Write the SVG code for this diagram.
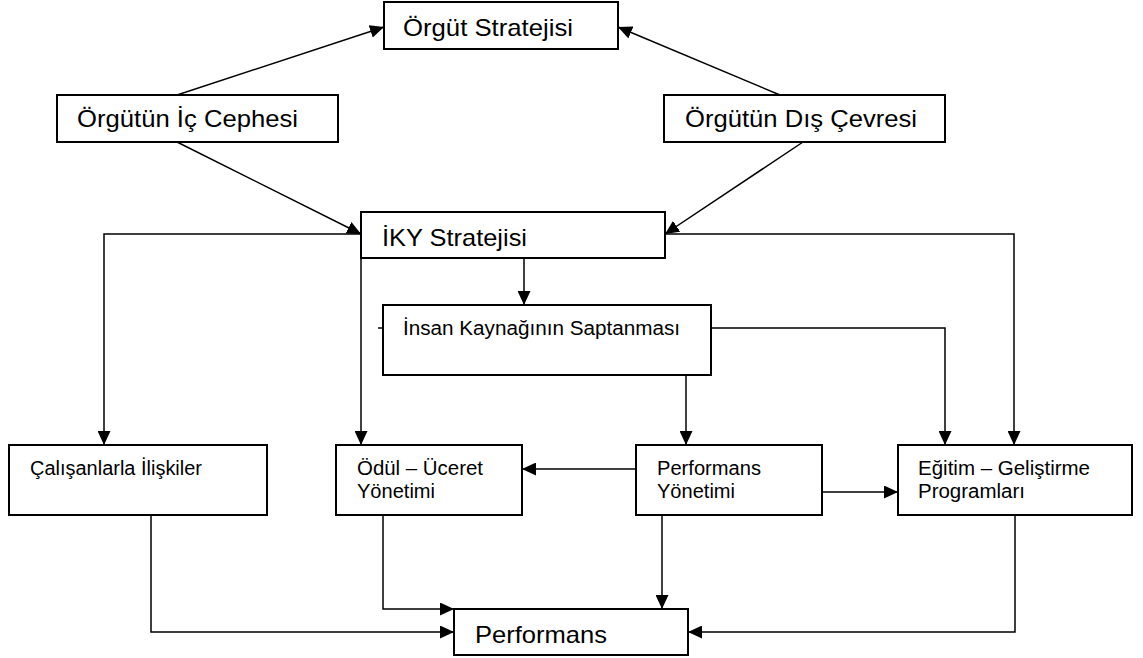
<svg xmlns="http://www.w3.org/2000/svg" width="1143" height="658" viewBox="0 0 1143 658">
  <style>
    .box { fill: #ffffff; stroke: #000000; stroke-width: 2; }
    .lbl { font-family: "Liberation Sans", Arial, sans-serif; fill: #000000; }
    .big { font-size: 24px; }
    .small { font-size: 20px; }
    .conn { fill: none; stroke: #000000; stroke-width: 1.5; }
    .arr { marker-end: url(#head); }
  </style>
  <defs>
    <marker id="head" markerWidth="15" markerHeight="13" refX="14" refY="6.5" orient="auto" markerUnits="userSpaceOnUse">
      <path d="M0,0 L14,6.5 L0,13 Z" fill="#000000"/>
    </marker>
  </defs>
  <rect width="1143" height="658" fill="#ffffff"/>

  <!-- connectors -->
  <g id="connectors">
    <path class="conn arr" d="M177,95 L384,27"/>
    <path class="conn arr" d="M780,95 L618,27"/>
    <path class="conn arr" d="M177,142 L361,234"/>
    <path class="conn arr" d="M803,142 L665,234"/>
    <path class="conn arr" d="M361,234 L104,234 L104,445"/>
    <path class="conn arr" d="M361,258 L361,445"/>
    <path class="conn arr" d="M524,258 L524,305"/>
    <path class="conn arr" d="M665,234 L1014,234 L1014,445"/>
    <path class="conn arr" d="M711,328 L945,328 L945,445"/>
    <path class="conn" d="M378,328 L383,328"/>
    <path class="conn arr" d="M686,375 L686,445"/>
    <path class="conn arr" d="M636,469 L522,469"/>
    <path class="conn arr" d="M822,492 L898,492"/>
    <path class="conn arr" d="M151,515 L151,632 L454,632"/>
    <path class="conn arr" d="M383,515 L383,609 L454,609"/>
    <path class="conn arr" d="M662,515 L662,609"/>
    <path class="conn arr" d="M1015,515 L1015,632 L688,632"/>
  </g>

  <g id="orgut-stratejisi">
    <rect class="box" x="384" y="2" width="234" height="47"/>
    <text class="lbl big" x="403" y="36" textLength="170" lengthAdjust="spacingAndGlyphs">Örgüt Stratejisi</text>
  </g>

  <g id="ic-cephe">
    <rect class="box" x="57" y="95" width="281" height="47"/>
    <text class="lbl big" x="77" y="127" textLength="221" lengthAdjust="spacingAndGlyphs">Örgütün İç Cephesi</text>
  </g>

  <g id="dis-cevre">
    <rect class="box" x="664" y="95" width="281" height="47"/>
    <text class="lbl big" x="685" y="127" textLength="232" lengthAdjust="spacingAndGlyphs">Örgütün Dış Çevresi</text>
  </g>

  <g id="iky-stratejisi">
    <rect class="box" x="361" y="212" width="304" height="46"/>
    <text class="lbl big" x="382" y="246" textLength="145" lengthAdjust="spacingAndGlyphs">İKY Stratejisi</text>
  </g>

  <g id="insan-kaynagi">
    <rect class="box" x="383" y="305" width="328" height="70"/>
    <text class="lbl small" x="403" y="335" textLength="277" lengthAdjust="spacingAndGlyphs">İnsan Kaynağının Saptanması</text>
  </g>

  <g id="calisan-iliskiler">
    <rect class="box" x="9" y="445" width="258" height="70"/>
    <text class="lbl small" x="30" y="475" textLength="172" lengthAdjust="spacingAndGlyphs">Çalışanlarla İlişkiler</text>
  </g>

  <g id="odul-ucret">
    <rect class="box" x="336" y="445" width="186" height="70"/>
    <text class="lbl small" x="357" y="475" textLength="126" lengthAdjust="spacingAndGlyphs">Ödül – Üceret</text>
    <text class="lbl small" x="357" y="498" textLength="78" lengthAdjust="spacingAndGlyphs">Yönetimi</text>
  </g>

  <g id="performans-yonetimi">
    <rect class="box" x="636" y="445" width="186" height="70"/>
    <text class="lbl small" x="657" y="475" textLength="104" lengthAdjust="spacingAndGlyphs">Performans</text>
    <text class="lbl small" x="657" y="498" textLength="78" lengthAdjust="spacingAndGlyphs">Yönetimi</text>
  </g>

  <g id="egitim-gelistirme">
    <rect class="box" x="898" y="445" width="234" height="70"/>
    <text class="lbl small" x="918" y="475" textLength="172" lengthAdjust="spacingAndGlyphs">Eğitim – Geliştirme</text>
    <text class="lbl small" x="918" y="498" textLength="107" lengthAdjust="spacingAndGlyphs">Programları</text>
  </g>

  <g id="performans">
    <rect class="box" x="454" y="609" width="234" height="46"/>
    <text class="lbl big" x="475" y="643" textLength="132" lengthAdjust="spacingAndGlyphs">Performans</text>
  </g>
</svg>
